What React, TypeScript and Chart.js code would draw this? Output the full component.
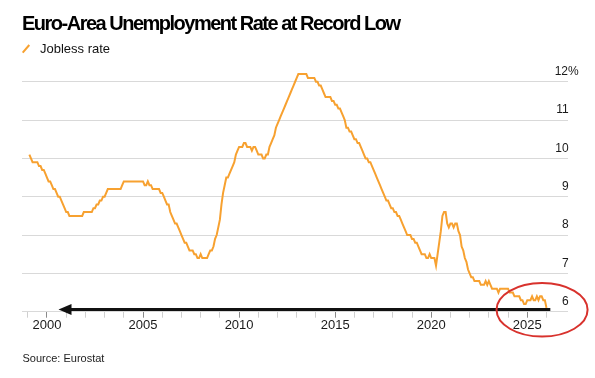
import React, { useEffect, useRef } from "react";
import { Chart, registerables } from "chart.js";

Chart.register(...registerables);

const TITLE = "Euro-Area Unemployment Rate at Record Low";
const SERIES_LABEL = "Jobless rate";
const SOURCE = "Source: Eurostat";

// First year of the monthly series (Jan 1999)
const FIRST_YEAR = 1999;

// Monthly euro-area jobless rate, %, Jan 1999 – Dec 2025 (one row per year)
const JOBLESS_RATE = [
  /* 1999 */ 10.1, 10.0, 9.9, 9.9, 9.9, 9.9, 9.8, 9.8, 9.7, 9.7, 9.6, 9.5,
  /* 2000 */ 9.4, 9.4, 9.3, 9.2, 9.2, 9.1, 9.0, 9.0, 8.9, 8.8, 8.7, 8.6,
  /* 2001 */ 8.6, 8.5, 8.5, 8.5, 8.5, 8.5, 8.5, 8.5, 8.5, 8.5, 8.6, 8.6,
  /* 2002 */ 8.6, 8.6, 8.6, 8.6, 8.7, 8.7, 8.8, 8.8, 8.9, 8.9, 9.0, 9.0,
  /* 2003 */ 9.1, 9.2, 9.2, 9.2, 9.2, 9.2, 9.2, 9.2, 9.2, 9.2, 9.3, 9.4,
  /* 2004 */ 9.4, 9.4, 9.4, 9.4, 9.4, 9.4, 9.4, 9.4, 9.4, 9.4, 9.4, 9.4,
  /* 2005 */ 9.3, 9.3, 9.4, 9.3, 9.3, 9.2, 9.2, 9.2, 9.2, 9.2, 9.1, 9.1,
  /* 2006 */ 9.0, 8.9, 8.8, 8.8, 8.6, 8.5, 8.4, 8.3, 8.3, 8.2, 8.1, 8.0,
  /* 2007 */ 7.9, 7.8, 7.8, 7.7, 7.6, 7.6, 7.6, 7.5, 7.5, 7.4, 7.4, 7.5,
  /* 2008 */ 7.4, 7.4, 7.4, 7.4, 7.5, 7.6, 7.6, 7.7, 7.9, 8.0, 8.2, 8.4,
  /* 2009 */ 8.8, 9.1, 9.3, 9.5, 9.5, 9.6, 9.7, 9.8, 9.9, 10.1, 10.2, 10.3,
  /* 2010 */ 10.3, 10.3, 10.4, 10.4, 10.3, 10.3, 10.3, 10.2, 10.3, 10.3, 10.2, 10.1,
  /* 2011 */ 10.1, 10.1, 10.0, 10.0, 10.1, 10.1, 10.3, 10.4, 10.5, 10.6, 10.8, 10.9,
  /* 2012 */ 11.0, 11.1, 11.2, 11.3, 11.4, 11.5, 11.6, 11.7, 11.8, 11.9, 12.0, 12.1,
  /* 2013 */ 12.2, 12.2, 12.2, 12.2, 12.2, 12.2, 12.1, 12.1, 12.1, 12.1, 12.1, 12.0,
  /* 2014 */ 12.0, 11.9, 11.9, 11.8, 11.7, 11.6, 11.6, 11.6, 11.6, 11.5, 11.5, 11.4,
  /* 2015 */ 11.4, 11.3, 11.3, 11.2, 11.1, 11.0, 10.8, 10.8, 10.7, 10.7, 10.6, 10.5,
  /* 2016 */ 10.5, 10.4, 10.4, 10.3, 10.2, 10.1, 10.0, 10.0, 9.9, 9.9, 9.8, 9.7,
  /* 2017 */ 9.6, 9.5, 9.4, 9.3, 9.2, 9.1, 9.0, 8.9, 8.9, 8.8, 8.7, 8.7,
  /* 2018 */ 8.6, 8.6, 8.5, 8.5, 8.4, 8.3, 8.2, 8.1, 8.0, 8.0, 8.0, 7.9,
  /* 2019 */ 7.9, 7.8, 7.8, 7.7, 7.6, 7.5, 7.5, 7.5, 7.4, 7.4, 7.5, 7.4,
  /* 2020 */ 7.4, 7.4, 7.2, 7.5, 7.8, 8.1, 8.5, 8.6, 8.6, 8.3, 8.2, 8.3,
  /* 2021 */ 8.3, 8.2, 8.3, 8.3, 8.1, 8.0, 7.7, 7.6, 7.4, 7.3, 7.1, 7.0,
  /* 2022 */ 6.9, 6.9, 6.8, 6.8, 6.8, 6.8, 6.7, 6.7, 6.7, 6.8, 6.7, 6.8,
  /* 2023 */ 6.7, 6.6, 6.6, 6.6, 6.6, 6.5, 6.6, 6.6, 6.6, 6.6, 6.6, 6.6,
  /* 2024 */ 6.5, 6.5, 6.5, 6.4, 6.4, 6.4, 6.4, 6.3, 6.3, 6.2, 6.2, 6.3,
  /* 2025 */ 6.3, 6.3, 6.4, 6.3, 6.3, 6.4, 6.3, 6.4, 6.4, 6.3, 6.3, 6.1,
];

// Yearly tick marks on the time axis; only the five-year ones carry labels
const X_TICKS = [
  1999, 2000, 2001, 2002, 2003, 2004, 2005, 2006, 2007, 2008, 2009, 2010, 2011, 2012,
  2013, 2014, 2015, 2016, 2017, 2018, 2019, 2020, 2021, 2022, 2023, 2024, 2025, 2026,
];
const X_LABELS = [2000, 2005, 2010, 2015, 2020, 2025];
const X_MIN = 1998.7;
const X_MAX = 2027.12;

const Y_TICKS = [6, 7, 8, 9, 10, 11, 12];
const Y_PERCENT_TICK = 12;
const Y_MIN = 6;
const Y_MAX = 12.45;

// Annotations (in data units): arrow along the floor and a circle around the latest reading
const ARROW_START = { x: 2026.2, y: 6.06 };
const ARROW_TIP = { x: 2000.6, y: 6.06 };
const CIRCLE_CENTER = { x: 2025.77, y: 6.05 };
const CIRCLE_RADIUS = { x: 2.37, y: 0.7 };

const FONT = '"Liberation Sans", Arial, Helvetica, sans-serif';
const ORANGE = "#f7a130";

const annotationPlugin = {
  id: "floorAnnotations",
  afterDraw(chart: any) {
    const { ctx } = chart;
    const xs = chart.scales.x;
    const ys = chart.scales.y;
    ctx.save();
    // arrow
    const x0 = xs.getPixelForValue(ARROW_START.x);
    const y0 = ys.getPixelForValue(ARROW_START.y);
    const x1 = xs.getPixelForValue(ARROW_TIP.x);
    const y1 = ys.getPixelForValue(ARROW_TIP.y);
    const headLen = 13;
    const headHalf = 5.5;
    ctx.strokeStyle = "#111";
    ctx.fillStyle = "#111";
    ctx.lineWidth = 3;
    ctx.lineCap = "butt";
    ctx.beginPath();
    ctx.moveTo(x0, y0);
    ctx.lineTo(x1 + headLen - 1, y1);
    ctx.stroke();
    ctx.beginPath();
    ctx.moveTo(x1, y1);
    ctx.lineTo(x1 + headLen, y1 - headHalf);
    ctx.lineTo(x1 + headLen, y1 + headHalf);
    ctx.closePath();
    ctx.fill();
    // ellipse
    const cx = xs.getPixelForValue(CIRCLE_CENTER.x);
    const cy = ys.getPixelForValue(CIRCLE_CENTER.y);
    const rx = Math.abs(xs.getPixelForValue(CIRCLE_CENTER.x + CIRCLE_RADIUS.x) - cx);
    const ry = Math.abs(ys.getPixelForValue(CIRCLE_CENTER.y + CIRCLE_RADIUS.y) - cy);
    ctx.strokeStyle = "#d8322d";
    ctx.lineWidth = 2;
    ctx.beginPath();
    ctx.ellipse(cx, cy, rx, ry, 0, 0, Math.PI * 2);
    ctx.stroke();
    ctx.restore();
  },
};

export default function App() {
  const ref = useRef<HTMLCanvasElement>(null);

  useEffect(() => {
    if (!ref.current) return;
    const points = JOBLESS_RATE.map((v, i) => ({ x: FIRST_YEAR + (i + 1) / 12, y: v }));
    const chart = new Chart(ref.current, {
      type: "line",
      data: {
        datasets: [
          {
            label: SERIES_LABEL,
            data: points,
            borderColor: ORANGE,
            backgroundColor: ORANGE,
            borderWidth: 2,
            pointRadius: 0,
            tension: 0,
            fill: false,
          },
        ],
      },
      options: {
        responsive: false,
        animation: false,
        devicePixelRatio: 1,
        events: [],
        layout: { padding: { left: 22, top: 64.5, right: 5.6, bottom: 44.7 } },
        plugins: {
          legend: { display: false },
          title: { display: false },
          tooltip: { enabled: false },
        },
        scales: {
          x: {
            type: "linear",
            min: X_MIN,
            max: X_MAX,
            afterBuildTicks: (scale: any) => {
              scale.ticks = X_TICKS.map((v) => ({ value: v }));
            },
            border: { display: false },
            grid: {
              drawOnChartArea: false,
              drawTicks: true,
              tickLength: 6,
              tickColor: (c: any) => (X_LABELS.includes(c.tick?.value) ? "#8a8a8a" : "#cfcfcf"),
              tickWidth: 1,
            },
            ticks: {
              autoSkip: false,
              maxRotation: 0,
              padding: 0,
              color: "#1a1a1a",
              font: { family: FONT, size: 13 },
              callback: (v: any) => (X_LABELS.includes(Number(v)) ? String(v) : ""),
            },
          },
          y: {
            type: "linear",
            position: "right",
            min: Y_MIN,
            max: Y_MAX,
            afterBuildTicks: (scale: any) => {
              scale.ticks = Y_TICKS.map((v) => ({ value: v }));
            },
            border: { display: false },
            grid: {
              color: "#d9d9d9",
              lineWidth: 1,
              drawTicks: false,
            },
            ticks: {
              mirror: true,
              crossAlign: "near",
              padding: 10.7,
              labelOffset: -10,
              color: "#1a1a1a",
              font: { family: FONT, size: 12 },
              callback: (v: any) => (Number(v) === Y_PERCENT_TICK ? `${v}%` : `${v}   `),
            },
          },
        },
      },
      plugins: [annotationPlugin],
    } as any);
    return () => chart.destroy();
  }, []);

  return (
    <div
      style={{
        position: "fixed",
        left: 0,
        top: 0,
        width: 595,
        height: 378,
        background: "#fff",
        overflow: "hidden",
        fontFamily: FONT,
      }}
    >
      <canvas
        ref={ref}
        width={595}
        height={378}
        style={{ position: "absolute", left: 0, top: 0, width: 595, height: 378 }}
      />
      <div
        style={{
          position: "absolute",
          left: 22,
          top: 13.1,
          fontSize: 20,
          lineHeight: "20px",
          fontWeight: 700,
          letterSpacing: "-1.5px",
          color: "#000",
          whiteSpace: "nowrap",
        }}
      >
        {TITLE}
      </div>
      <svg
        width={10}
        height={12}
        style={{ position: "absolute", left: 21, top: 43 }}
      >
        <line x1={1.7} y1={9.7} x2={8.3} y2={2} stroke={ORANGE} strokeWidth={2} />
      </svg>
      <div
        style={{
          position: "absolute",
          left: 40,
          top: 41.7,
          fontSize: 13,
          lineHeight: "13px",
          color: "#111",
          whiteSpace: "nowrap",
        }}
      >
        {SERIES_LABEL}
      </div>
      <div
        style={{
          position: "absolute",
          left: 22.5,
          top: 353.4,
          fontSize: 11,
          lineHeight: "11px",
          color: "#222",
          whiteSpace: "nowrap",
        }}
      >
        {SOURCE}
      </div>
    </div>
  );
}
